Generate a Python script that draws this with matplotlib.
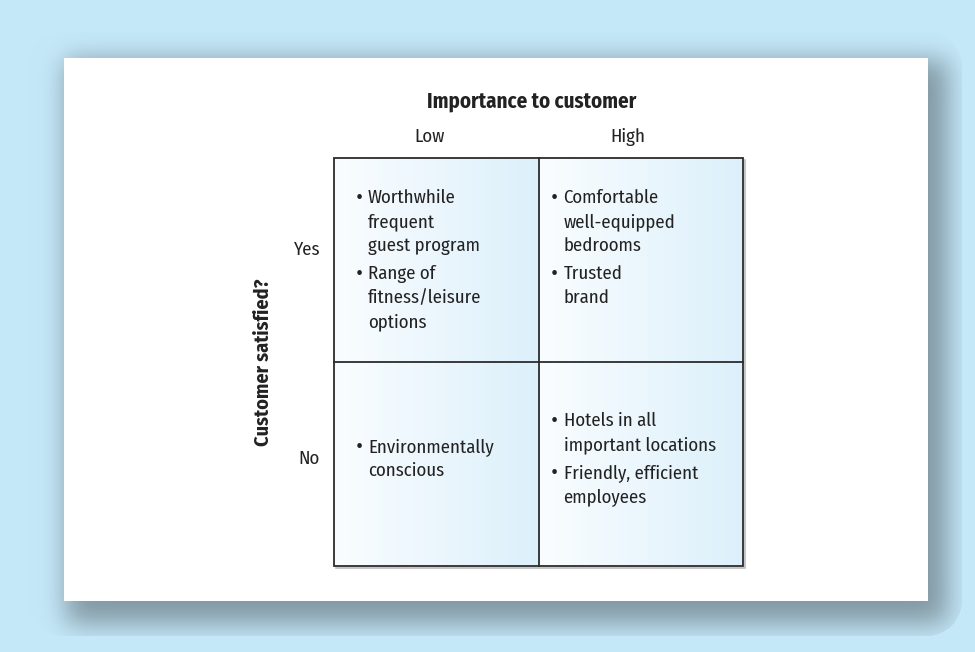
import math
import numpy as np
import matplotlib
matplotlib.use("Agg")
import matplotlib.pyplot as plt
from matplotlib.patches import Rectangle

# data
title = "Importance to customer"
ylabel = "Customer satisfied?"
col_labels = ["Low", "High"]
row_labels = ["Yes", "No"]
cell_yes_low = [["Worthwhile", "frequent", "guest program"],
                ["Range of", "fitness/leisure", "options"]]
cell_yes_high = [["Comfortable", "well-equipped", "bedrooms"],
                 ["Trusted", "brand"]]
cell_no_low = [["Environmentally", "conscious"]]
cell_no_high = [["Hotels in all", "important locations"],
                ["Friendly, efficient", "employees"]]
cells = [[cell_yes_low, cell_yes_high],
         [cell_no_low, cell_no_high]]

plt.rcParams['font.family'] = ['Fira Sans Condensed', 'PT Sans Narrow', 'Liberation Sans', 'DejaVu Sans']

W, H = 975, 652
fig = plt.figure(figsize=(W / 100, H / 100), dpi=100)
ax = fig.add_axes([0, 0, 1, 1])
ax.set_xlim(0, W)
ax.set_ylim(H, 0)
ax.axis('off')

# background with soft shadow behind the panel
bg = np.array([197, 232, 249]) / 255.0
erf = np.vectorize(math.erf)
xs = np.arange(W) + 0.5
ys = np.arange(H) + 0.5
sig = 13.0
px = 0.5 * (erf((xs - 66) / (sig * 1.414)) - erf((xs - 948) / (sig * 1.414)))
py = 0.5 * (erf((ys - 60) / (sig * 1.414)) - erf((ys - 624) / (sig * 1.414)))
s = np.outer(py, px)
# rounded outline of the shadow area
r = 35
cx = np.clip(xs, 28 + r, 962 - r)
cy = np.clip(ys, 32 + r, 636 - r)
dist = np.sqrt((xs[None, :] - cx[None, :]) ** 2 + (ys[:, None] - cy[:, None]) ** 2)
mask = dist <= r
s = np.where(mask, s, 0.0)
img = bg[None, None, :] * (1 - 0.34 * s[:, :, None])
ax.imshow(img, extent=(0, W, H, 0), interpolation='bilinear', zorder=0)

# white panel
ax.add_patch(Rectangle((64, 58), 864, 543, facecolor='white', edgecolor='none', zorder=1))

# grid geometry
gx0, gx1, gy0, gy1 = 334, 743, 158, 566
cw = (gx1 - gx0) / 2
ch = (gy1 - gy0) / 2

grad = np.linspace(0, 1, 256)
c0 = np.array([250, 253, 255]) / 255.0
c1 = np.array([220, 240, 251]) / 255.0
grad_img = (c0[None, :] * (1 - grad[:, None]) + c1[None, :] * grad[:, None])[None, :, :]

for i in range(2):
    for j in range(2):
        x0 = gx0 + j * cw
        y0 = gy0 + i * ch
        ax.imshow(grad_img, extent=(x0, x0 + cw, y0 + ch, y0), aspect='auto',
                  interpolation='bilinear', zorder=2)

# faint drop line on outer box
ax.plot([gx0 + 2, gx1 + 2, gx1 + 2], [gy1 + 2, gy1 + 2, gy0 + 2], color='#bbbbbb', lw=1.2, zorder=3)
ax.add_patch(Rectangle((gx0, gy0), gx1 - gx0, gy1 - gy0, facecolor='none',
                       edgecolor='#2b2b2b', lw=1.3, zorder=4))
ax.plot([gx0 + cw, gx0 + cw], [gy0, gy1], color='#2b2b2b', lw=1.3, zorder=4)
ax.plot([gx0, gx1], [gy0 + ch, gy0 + ch], color='#2b2b2b', lw=1.3, zorder=4)

tc = '#222222'
fs = 13.5
ax.text(532, 101, title, ha='center', va='center', fontsize=15,
        fontweight='bold', color=tc, zorder=5)
col_x = [430, 628]
for lab, x in zip(col_labels, col_x):
    ax.text(x, 137, lab, ha='center', va='center', fontsize=fs, color=tc, zorder=5)
row_y = [250, 459]
for lab, y in zip(row_labels, row_y):
    ax.text(320, y, lab, ha='right', va='center', fontsize=fs, color=tc, zorder=5)
ax.text(263, (gy0 + gy1) / 2, ylabel, ha='center', va='center', rotation=90,
        fontsize=14.5, fontweight='bold', color=tc, zorder=5)

# cell bullet lists
line_h = 24
gap = 4
for i in range(2):
    for j in range(2):
        items = cells[i][j]
        n_lines = sum(len(it) for it in items)
        block = (n_lines - 1) * line_h + (len(items) - 1) * gap
        x0 = gx0 + j * cw
        if i == 0:
            y = gy0 + 40
        else:
            y = gy0 + ch + ch / 2 - 5 - block / 2
        tx = x0 + 34 if j == 0 else x0 + 25
        for it in items:
            for k, line in enumerate(it):
                if k == 0:
                    ax.text(tx - 9, y, "\u2022", ha='center', va='center', fontsize=17,
                            color=tc, zorder=5)
                ax.text(tx, y, line, ha='left', va='center', fontsize=fs, color=tc, zorder=5)
                y += line_h
            y += gap

fig.savefig("out.png", dpi=100)
